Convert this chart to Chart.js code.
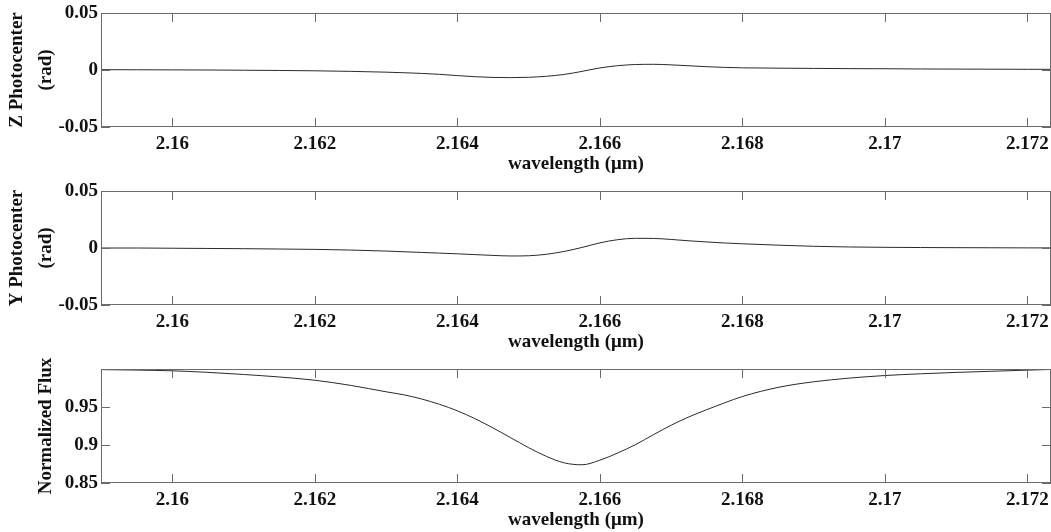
<!DOCTYPE html>
<html>
<head>
<meta charset="utf-8">
<script src="https://cdn.jsdelivr.net/npm/chart.js@4.4.1/dist/chart.umd.min.js"></script>
<style>
    html, body { margin: 0; padding: 0; background: #fff; overflow: hidden; }
    .panel { position: absolute; left: 0; width: 1051px; height: 178px; }
</style>
</head>
<body>
<div class="panel" style="top:0px"><canvas id="zChart" width="1051" height="178"></canvas></div>
<div class="panel" style="top:178px"><canvas id="yChart" width="1051" height="178"></canvas></div>
<div class="panel" style="top:356px"><canvas id="fluxChart" width="1051" height="178"></canvas></div>
<script>
// wavelength grid (um)
const wavelength = [2.159, 2.1595, 2.160, 2.1605, 2.161, 2.1615, 2.162, 2.1625, 2.163, 2.16325,
    2.1635, 2.16375, 2.164, 2.16425, 2.1645, 2.16475, 2.165, 2.16525, 2.1655, 2.16575,
    2.166, 2.16625, 2.1665, 2.16675, 2.167, 2.16725, 2.1675, 2.16775, 2.168, 2.1685,
    2.169, 2.1695, 2.170, 2.1705, 2.171, 2.1715, 2.172, 2.17233];

// Z photocenter (rad)
const zPhoto = [0.0003, 0.0002, 0.0001, 0.0, -0.0002, -0.0004, -0.0007, -0.0012, -0.0019, -0.0024,
    -0.0030, -0.0038, -0.0049, -0.0059, -0.0065, -0.0067, -0.0064, -0.0055, -0.0039, -0.0012,
    0.0018, 0.0038, 0.0048, 0.0050, 0.0045, 0.0037, 0.0029, 0.0023, 0.0019, 0.0016,
    0.0014, 0.0012, 0.0011, 0.0009, 0.0008, 0.0007, 0.0006, 0.0006];

// Y photocenter (rad)
const yPhoto = [0.0, 0.0, -0.0002, -0.0004, -0.0006, -0.0009, -0.0012, -0.0018, -0.0027, -0.0033,
    -0.0039, -0.0045, -0.0051, -0.0058, -0.0065, -0.0070, -0.0068, -0.0055, -0.0030, 0.0005,
    0.0045, 0.0073, 0.0085, 0.0084, 0.0075, 0.0063, 0.0053, 0.0044, 0.0037, 0.0025,
    0.0015, 0.0009, 0.0006, 0.0004, 0.0003, 0.0002, 0.0001, 0.0001];

// normalized flux
const flux = [0.9992, 0.9986, 0.9976, 0.9956, 0.9928, 0.9895, 0.9852, 0.9785, 0.9700, 0.9660,
    0.9605, 0.9535, 0.9450, 0.9345, 0.9225, 0.9095, 0.8965, 0.8850, 0.8765, 0.8740,
    0.8800, 0.8895, 0.9005, 0.9135, 0.9260, 0.9370, 0.9465, 0.9555, 0.9638, 0.9758,
    0.9832, 0.9880, 0.9914, 0.9937, 0.9955, 0.9970, 0.9985, 0.9994];

const xTicks = [2.16, 2.162, 2.164, 2.166, 2.168, 2.17, 2.172];
const photoTicks = [-0.05, 0, 0.05];
const fluxTicks = [0.85, 0.9, 0.95];

const FONT = { family: '"Liberation Serif", "DejaVu Serif", serif', size: 19, weight: 'bold' };

// box around the plot and inward tick marks
const frameTicks = {
    id: 'frameTicks',
    afterDatasetsDraw(chart) {
        const { ctx, chartArea: a, scales: { x, y } } = chart;
        ctx.save();
        ctx.strokeStyle = '#6a6a6a';
        ctx.lineWidth = 1;
        ctx.beginPath();
        x.ticks.forEach(t => {
            const px = Math.round(x.getPixelForValue(t.value)) + 0.5;
            ctx.moveTo(px, a.bottom); ctx.lineTo(px, a.bottom - 9);
            ctx.moveTo(px, a.top); ctx.lineTo(px, a.top + 9);
        });
        y.ticks.forEach(t => {
            const py = Math.round(y.getPixelForValue(t.value)) + 0.5;
            ctx.moveTo(a.left, py); ctx.lineTo(a.left + 9, py);
            ctx.moveTo(a.right, py); ctx.lineTo(a.right - 9, py);
        });
        ctx.stroke();
        ctx.strokeRect(a.left + 0.5, a.top + 0.5, a.width - 1, a.height - 1);
        ctx.restore();
    }
};

function makePanel(id, values, yTitle, yMin, yMax, yTicks, titlePad) {
    new Chart(document.getElementById(id), {
        type: 'line',
        data: {
            datasets: [{
                data: wavelength.map((w, i) => ({ x: w, y: values[i] })),
                borderColor: '#2a2a2a',
                borderWidth: 1,
                pointRadius: 0,
                cubicInterpolationMode: 'monotone'
            }]
        },
        options: {
            responsive: false,
            animation: false,
            devicePixelRatio: 1,
            layout: { padding: { top: 13, left: 0, right: 0, bottom: 0 } },
            plugins: { legend: { display: false }, tooltip: { enabled: false } },
            scales: {
                x: {
                    type: 'linear',
                    min: 2.159,
                    max: 2.17233,
                    grid: { display: false, drawTicks: false },
                    border: { display: false },
                    afterBuildTicks: s => { s.ticks = xTicks.map(v => ({ value: v })); },
                    afterFit: s => { s.height = 51; s.paddingLeft = 0; s.paddingRight = 0; },
                    ticks: {
                        font: FONT, color: '#111', padding: 6, maxRotation: 0,
                        callback: v => String(+v.toFixed(3))
                    },
                    title: {
                        display: true, text: 'wavelength (μm)', font: FONT, color: '#111',
                        padding: { top: 0, bottom: 3 }
                    }
                },
                y: {
                    min: yMin,
                    max: yMax,
                    grid: { display: false, drawTicks: false },
                    border: { display: false },
                    afterBuildTicks: s => { s.ticks = yTicks.map(v => ({ value: v })); },
                    afterFit: s => { s.width = 101; s.paddingTop = 0; s.paddingBottom = 0; },
                    ticks: { font: FONT, color: '#111', padding: 3, callback: v => String(v) },
                    title: {
                        display: true, text: yTitle, color: '#111',
                        font: Object.assign({}, FONT, { lineHeight: 1.5 }),
                        padding: { top: titlePad, bottom: 0 }
                    }
                }
            }
        },
        plugins: [frameTicks]
    });
}

makePanel('zChart', zPhoto, ['Z Photocenter', '(rad)'], -0.05, 0.05, photoTicks, 3);
makePanel('yChart', yPhoto, ['Y Photocenter', '(rad)'], -0.05, 0.05, photoTicks, 3);
makePanel('fluxChart', flux, 'Normalized Flux', 0.85, 1.0, fluxTicks, 32);
</script>
</body>
</html>
